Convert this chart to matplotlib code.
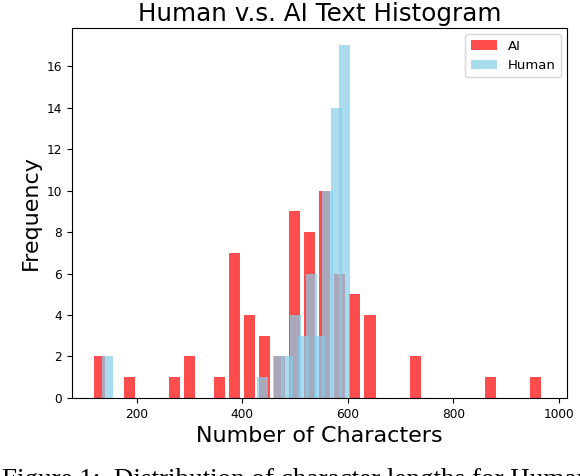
import numpy as np
import matplotlib
matplotlib.use("Agg")
import matplotlib.pyplot as plt

# histogram counts (30 bins each)
ai_min, ai_max = 118.7, 973.5
ai_counts = [2, 0, 1, 0, 0, 1, 2, 0, 1, 7,
             4, 3, 2, 9, 8, 10, 6, 5, 4, 0,
             0, 2, 0, 0, 0, 0, 1, 0, 0, 1]

human_min, human_max = 133.0, 598.3
human_counts = [2, 0, 0, 0, 0, 0, 0, 0, 0, 0,
                0, 0, 0, 0, 0, 0, 0, 0, 0, 1,
                0, 2, 2, 4, 3, 6, 3, 10, 14, 17]

ai_edges = np.linspace(ai_min, ai_max, len(ai_counts) + 1)
human_edges = np.linspace(human_min, human_max, len(human_counts) + 1)

fig = plt.figure(figsize=(5.8, 4.76), dpi=100)
ax = fig.add_axes([0.1233, 0.1639, 0.8548, 0.7779])

ax.bar(ai_edges[:-1], ai_counts, width=21, align="edge",
       color="red", alpha=0.7, label="AI")
ax.bar(human_edges[:-1], human_counts, width=21, align="edge",
       color="skyblue", alpha=0.7, label="Human")

ax.set_xlim(76, 1016.3)
ax.set_ylim(0, 17.85)
ax.set_title("Human v.s. AI Text Histogram", fontsize=17.7, pad=5)
ax.set_xlabel("Number of Characters", fontsize=16)
ax.set_ylabel("Frequency", fontsize=16)
ax.tick_params(labelsize=8.7)
ax.legend(loc="upper right", fontsize=9.5)

# caption from the paper, cut by the crop
fig.text(0.004, -0.024, "Figure 1:  Distribution of character lengths for Human",
         fontsize=19.5, family="Liberation Serif", ha="left", va="baseline")

fig.savefig("out.png", dpi=100)
